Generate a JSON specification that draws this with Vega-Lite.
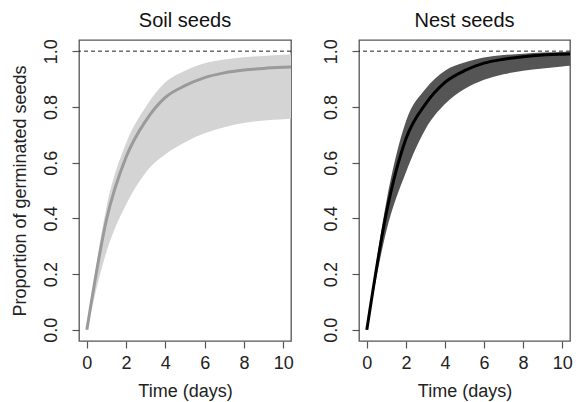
{
  "$schema": "https://vega.github.io/schema/vega-lite/v6.json",
  "background": "white",
  "padding": {"left": 10, "top": 9, "right": 5, "bottom": 5},
  "spacing": 68,
  "bounds": "flush",
  "config": {
    "font": "Liberation Sans",
    "view": {"stroke": "#555555", "strokeWidth": 1.3},
    "title": {"fontSize": 20, "fontWeight": "normal", "color": "#111111", "offset": 8},
    "axis": {
      "grid": false,
      "domain": false,
      "tickColor": "#555555",
      "tickSize": 7,
      "tickWidth": 1.2,
      "labelFontSize": 18,
      "labelColor": "#222222",
      "titleFontSize": 18,
      "titleFontWeight": "normal",
      "titleColor": "#222222"
    }
  },
  "datasets": {
    "curves": [
      {"panel": "Soil", "day": 0, "mean": 0.0, "lo": 0.0, "hi": 0.0},
      {"panel": "Soil", "day": 1, "mean": 0.395, "lo": 0.28, "hi": 0.44},
      {"panel": "Soil", "day": 2, "mean": 0.62, "lo": 0.45, "hi": 0.67},
      {"panel": "Soil", "day": 3, "mean": 0.75, "lo": 0.565, "hi": 0.80},
      {"panel": "Soil", "day": 4, "mean": 0.834, "lo": 0.63, "hi": 0.888},
      {"panel": "Soil", "day": 5, "mean": 0.876, "lo": 0.673, "hi": 0.93},
      {"panel": "Soil", "day": 6, "mean": 0.905, "lo": 0.705, "hi": 0.957},
      {"panel": "Soil", "day": 7, "mean": 0.922, "lo": 0.727, "hi": 0.970},
      {"panel": "Soil", "day": 8, "mean": 0.932, "lo": 0.742, "hi": 0.978},
      {"panel": "Soil", "day": 9, "mean": 0.938, "lo": 0.751, "hi": 0.983},
      {"panel": "Soil", "day": 10, "mean": 0.942, "lo": 0.756, "hi": 0.987},
      {"panel": "Soil", "day": 11, "mean": 0.945, "lo": 0.76, "hi": 0.989},
      {"panel": "Nest", "day": 0, "mean": 0.0, "lo": 0.0, "hi": 0.0},
      {"panel": "Nest", "day": 1, "mean": 0.42, "lo": 0.355, "hi": 0.46},
      {"panel": "Nest", "day": 2, "mean": 0.685, "lo": 0.565, "hi": 0.748},
      {"panel": "Nest", "day": 3, "mean": 0.81, "lo": 0.72, "hi": 0.864},
      {"panel": "Nest", "day": 4, "mean": 0.888, "lo": 0.81, "hi": 0.93},
      {"panel": "Nest", "day": 5, "mean": 0.93, "lo": 0.864, "hi": 0.959},
      {"panel": "Nest", "day": 6, "mean": 0.957, "lo": 0.897, "hi": 0.977},
      {"panel": "Nest", "day": 7, "mean": 0.971, "lo": 0.917, "hi": 0.986},
      {"panel": "Nest", "day": 8, "mean": 0.98, "lo": 0.93, "hi": 0.991},
      {"panel": "Nest", "day": 9, "mean": 0.986, "lo": 0.938, "hi": 0.995},
      {"panel": "Nest", "day": 10, "mean": 0.989, "lo": 0.945, "hi": 0.997},
      {"panel": "Nest", "day": 11, "mean": 0.991, "lo": 0.95, "hi": 0.998}
    ],
    "ref": [{"level": 1}]
  },
  "hconcat": [
    {
      "title": "Soil seeds",
      "width": 212,
      "height": 301,
      "layer": [
        {
          "data": {"name": "curves"},
          "transform": [{"filter": "datum.panel === 'Soil'"}],
          "mark": {"type": "area", "color": "#d4d4d4", "clip": true, "interpolate": "monotone"},
          "encoding": {
            "x": {"field": "day", "type": "quantitative", "scale": {"domain": [-0.4, 10.4], "nice": false, "zero": false},
                  "axis": {"values": [0, 2, 4, 6, 8, 10], "title": "Time (days)", "labelPadding": 6, "titlePadding": 10}},
            "y": {"field": "lo", "type": "quantitative", "scale": {"domain": [-0.04, 1.04], "nice": false, "zero": false},
                  "axis": {"values": [0, 0.2, 0.4, 0.6, 0.8, 1.0], "format": ".1f", "labelAngle": -90, "labelAlign": "center", "labelBaseline": "bottom", "labelPadding": 12,
                           "title": "Proportion of germinated seeds", "titlePadding": 13}},
            "y2": {"field": "hi"}
          }
        },
        {
          "data": {"name": "curves"},
          "transform": [{"filter": "datum.panel === 'Soil'"}],
          "mark": {"type": "line", "color": "#9a9a9a", "strokeWidth": 3, "clip": true, "interpolate": "monotone"},
          "encoding": {
            "x": {"field": "day", "type": "quantitative"},
            "y": {"field": "mean", "type": "quantitative"}
          }
        },
        {
          "data": {"name": "ref"},
          "mark": {"type": "rule", "color": "#222222", "strokeWidth": 1, "strokeDash": [4, 3]},
          "encoding": {"y": {"field": "level", "type": "quantitative"}}
        }
      ]
    },
    {
      "title": "Nest seeds",
      "width": 211,
      "height": 301,
      "layer": [
        {
          "data": {"name": "curves"},
          "transform": [{"filter": "datum.panel === 'Nest'"}],
          "mark": {"type": "area", "color": "#555555", "clip": true, "interpolate": "monotone"},
          "encoding": {
            "x": {"field": "day", "type": "quantitative", "scale": {"domain": [-0.4, 10.4], "nice": false, "zero": false},
                  "axis": {"values": [0, 2, 4, 6, 8, 10], "title": "Time (days)", "labelPadding": 6, "titlePadding": 10}},
            "y": {"field": "lo", "type": "quantitative", "scale": {"domain": [-0.04, 1.04], "nice": false, "zero": false},
                  "axis": {"values": [0, 0.2, 0.4, 0.6, 0.8, 1.0], "format": ".1f", "labelAngle": -90, "labelAlign": "center", "labelBaseline": "bottom", "labelPadding": 12, "title": null}},
            "y2": {"field": "hi"}
          }
        },
        {
          "data": {"name": "curves"},
          "transform": [{"filter": "datum.panel === 'Nest'"}],
          "mark": {"type": "line", "color": "#000000", "strokeWidth": 3, "clip": true, "interpolate": "monotone"},
          "encoding": {
            "x": {"field": "day", "type": "quantitative"},
            "y": {"field": "mean", "type": "quantitative"}
          }
        },
        {
          "data": {"name": "ref"},
          "mark": {"type": "rule", "color": "#222222", "strokeWidth": 1, "strokeDash": [4, 3]},
          "encoding": {"y": {"field": "level", "type": "quantitative"}}
        }
      ]
    }
  ]
}
